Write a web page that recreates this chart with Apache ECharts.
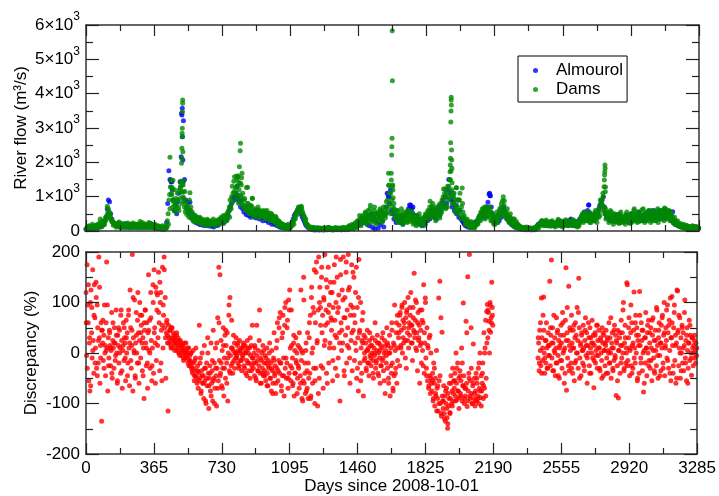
<!DOCTYPE html>
<html>
<head>
<meta charset="utf-8">
<script src="https://cdn.jsdelivr.net/npm/echarts@6/dist/echarts.min.js"></script>
<style>html,body{margin:0;padding:0;background:#fff;}#c{width:719px;height:496px;}</style>
</head>
<body>
<div id="c"></div>
<script>
// ---------- DATA ----------
// X axis ticks (days since 2008-10-01)
const dayTicks = [0, 365, 730, 1095, 1460, 1825, 2190, 2555, 2920, 3285];
const flowTickLabels = ['0', '1', '2', '3', '4', '5', '6']; // ×10³
const discTickLabels = ['-200', '-100', '0', '100', '200'];

// Dams flow (m3/s): rows of 10 samples, every 4 days, row r starts at day r*40
const damsFlow = [
[60,90,120,70,100,140,80,110,90,130],
[100,150,90,120,170,110,140,200,160,350],
[180,220,160,250,200,280,300,380,450,520],
[650,560,480,400,340,300,260,230,210,190],
[170,150,200,140,250,180,130,160,210,150],
[120,170,140,200,110,160,230,130,180,150],
[140,190,110,170,130,210,150,120,180,140],
[160,110,200,130,170,250,140,190,120,160],
[130,180,150,110,220,140,170,120,190,150],
[110,160,130,90,150,120,80,140,100,130],
[90,70,120,60,100,80,130,70,110,300],
[500,900,1060,1280,1480,1050,700,860,600,750],
[560,800,650,900,700,1200,950,1450,1140,1340],
[1000,860,700,560,650,480,720,540,400,620],
[450,380,560,330,480,300,420,350,280,400],
[320,260,380,240,300,350,220,280,330,250],
[290,200,260,310,230,180,270,220,300,240],
[210,280,250,190,300,260,230,320,270,350],
[300,400,280,350,450,320,380,300,420,520],
[480,600,700,900,750,1000,1300,1100,1450,1580],
[1100,950,1300,1050,1600,1200,900,1400,1000,800],
[1100,750,900,650,700,1270,600,800,550,700],
[650,500,720,950,580,480,650,550,600,450],
[620,480,550,600,420,500,580,450,520,400],
[480,550,380,500,420,460,350,520,400,300],
[450,320,380,280,420,250,330,200,300,180],
[250,160,220,140,190,120,170,150,110,160],
[130,100,150,90,120,200,150,250,300,380],
[420,500,460,560,620,550,680,600,700,650],
[560,480,400,330,280,220,180,150,120,100],
[90,70,110,60,80,100,50,90,70,60],
[80,50,70,40,90,60,50,80,40,70],
[60,90,40,70,50,80,100,60,45,75],
[50,80,60,40,90,55,70,45,85,60],
[70,40,60,90,50,75,45,80,60,100],
[80,120,60,100,150,90,70,130,110,180],
[150,250,120,200,300,180,260,350,220,400],
[300,450,250,380,520,320,420,280,600,350],
[480,750,380,520,300,450,600,350,500,280],
[420,550,320,480,650,380,500,300,560,450],
[600,380,700,520,900,680,1330,800,1100,1680],
[900,700,550,650,400,500,350,600,300,450],
[380,520,300,450,250,400,550,320,480,280],
[420,600,350,500,280,450,380,550,300,420],
[250,380,300,450,200,350,280,400,220,320],
[180,300,250,400,350,500,300,450,600,380],
[500,870,600,710,450,650,550,400,700,480],
[600,420,550,750,380,500,650,900,700,1224],
[800,1000,650,1100,700,900,1300,1000,1500,1750],
[1200,1000,800,1100,650,900,1262,700,500,900],
[600,1100,450,700,1255,550,400,350,300,250],
[200,300,150,250,120,200,280,150,100,180],
[120,200,150,250,300,200,350,450,380,550],
[500,650,420,600,700,480,550,400,620,500],
[450,700,380,550,300,450,250,400,200,350],
[300,450,250,500,600,400,700,550,880,1000],
[750,600,450,550,350,480,300,420,250,380],
[200,300,150,250,350,180,120,220,100,160],
[90,140,70,120,60,100,80,50,110,70],
[60,40,80,50,70,45,90,55,65,40],
[50,80,60,100,70,120,150,200,180,250],
[220,300,180,270,200,240,160,280,210,250],
[190,230,160,270,200,180,250,150,220,190],
[170,240,200,150,260,180,300,210,160,230],
[200,280,170,250,300,190,240,160,270,210],
[180,250,150,220,300,200,170,260,140,230],
[200,300,250,400,350,500,300,450,380,520],
[420,300,480,350,400,250,450,320,500,380],
[450,300,400,550,350,480,600,400,700,903],
[800,600,750,1000,700,500,650,450,550,400],
[500,350,450,300,550,400,280,480,350,420],
[300,450,250,400,350,500,280,420,320,380],
[250,400,320,480,280,350,450,300,400,220],
[350,500,280,420,600,380,300,450,550,320],
[400,280,500,350,450,620,380,300,480,400],
[350,550,300,450,600,380,500,320,420,560],
[450,380,600,300,500,420,650,350,550,400],
[480,600,350,550,420,670,500,380,600,450],
[520,400,580,350,450,300,380,250,320,200],
[250,180,220,150,200,130,180,120,160,100],
[140,90,120,80,110,150,90,130,100,80],
[120,70,100,140,90,60,110,80,130,70],
[100,90]
];
// Dams flow, extra samples: every 8 days, row r starts at day 2 + r*80
const damsFlow2 = [
[40,110,150,70,200,90,130,180,80,250],
[120,300,180,400,720,500,350,280,170,230],
[110,190,260,90,200,150,100,220,130,180],
[90,230,160,100,200,120,280,90,170,210],
[100,160,250,90,180,130,200,70,150,110],
[60,150,50,90,120,200,650,1100,900,1200],
[950,1100,600,1250,800,1450,1150,800,600,900],
[700,500,280,450,250,350,400,200,300,180],
[230,340,160,280,200,350,150,250,300,200],
[250,380,220,450,300,550,400,650,850,1150],
[1250,1500,800,1050,1550,700,950,600,800,500],
[750,550,400,600,500,700,380,550,450,600],
[350,600,450,300,500,380,250,400,150,280],
[200,100,180,80,130,200,60,140,250,200],
[350,550,700,600,720,500,420,350,200,140],
[60,110,40,90,60,100,30,70,50,90],
[40,70,110,50,80,30,60,100,45,70],
[90,40,110,60,80,50,150,100,200,60],
[200,100,300,450,150,350,250,550,200,400],
[650,250,400,700,200,500,350,600,250,700],
[450,850,550,1100,500,1300,800,400,600,250],
[450,650,200,350,500,250,600,350,500,200],
[400,150,300,500,250,350,150,450,300,550],
[700,400,800,550,300,650,450,800,550,1000],
[1100,700,1300,950,1150,800,1000,550,750,600],
[900,350,800,450,200,350,150,250,100,220],
[80,180,250,400,300,550,650,350,700,450],
[600,300,500,200,350,550,400,650,800,500],
[880,400,650,300,500,250,350,120,280,200],
[150,60,100,45,80,120,50,90,35,70],
[100,40,150,90,200,300,150,250,320,150],
[260,140,300,220,120,250,340,180,270,120],
[240,330,200,150,280,230,330,180,250,120],
[150,350,450,250,550,400,300,550,250,450],
[350,600,250,500,450,800,1100,600,350,500],
[250,600,400,200,500,300,450,220,550,400],
[350,200,550,300,450,250,500,650,400,250],
[550,300,450,650,250,500,400,600,250,450],
[300,550,450,250,600,400,550,300,650,350],
[600,300,500,250,400,200,300,150,220,140],
[200,110,170,60,130,90,150,70,120,50],
[90]
];
// Dams flow peak days read individually
const damsPeakDays = [
450,458,462,466,506,510,512,513,514,515,515,516,517,518,518,519,520,521,523,557,
808,812,818,822,826,828,832,836,866,891,
1621,1622,1636,1638,1639,1640,1641,1642,1644,1645,1646,
1924,1950,1951,1952,1953,1954,1955,1956,1957,1957,1958,1959,1960,1961,1962,1968,1985,1992,
2762,2776,2778,2779,2780,2781,2782,2783,2784
];
const damsPeakFlow = [
2146,1280,1250,1480,1300,1437,1971,2117,2408,2748,2845,2990,3475,3718,3816,2311,1340,1146,951,1117,
1602,1563,1408,1874,2340,2554,1340,1680,1272,951,
1680,1330,1486,2214,2457,2700,5835,4379,1340,1194,971,
1224,1486,1729,1923,2117,2573,3175,3495,3894,3816,3670,2360,2068,1826,1408,1097,1262,903,
903,1291,1486,1632,1729,1923,1826,1146,1280
];

// Almourol flow (m3/s): rows of 10 samples, every 6 days, row r starts at day r*60
const almFlow = [
[50,80,110,60,90,130,70,100,80,120],
[90,140,200,150,130,180,220,300,400,640],
[903,854,500,350,260,220,180,160,200,150],
[130,170,110,150,210,120,160,140,100,150],
[130,170,110,150,120,180,100,140,160,120],
[150,110,180,130,100,170,120,140,220,130],
[100,140,80,120,70,110,90,60,100,70],
[60,90,250,800,1757,1500,1437,1200,900,600],
[750,500,850,1100,1437,2165,3573,3214,1500,900],
[700,840,500,600,380,450,300,350,250,320],
[220,280,180,250,200,160,230,190,150,210],
[180,140,200,160,120,190,150,220,170,250],
[230,300,250,350,280,400,330,450,600,700],
[800,950,1000,903,1100,1300,1000,850,700,900],
[650,550,700,480,600,450,520,400,550,480],
[420,500,380,450,520,350,480,400,300,420],
[380,300,420,250,350,280,200,320,220,180],
[250,150,200,120,170,100,140,90,130,110],
[80,120,90,150,250,350,450,500,550,620],
[600,680,500,420,350,280,200,150,120,90],
[70,50,80,40,60,30,70,50,40,60],
[40,70,30,55,45,80,35,60,50,40],
[60,35,70,45,55,40,75,50,35,65],
[50,80,40,70,100,60,90,120,80,150],
[100,200,140,250,180,300,220,350,250,400],
[300,200,450,150,350,500,100,400,60,300],
[250,80,400,180,550,300,120,450,700,1097],
[1000,800,1200,600,500,350,450,250,400,300],
[350,250,420,200,380,300,450,550,650,757],
[700,650,500,400,300,450,250,350,200,300],
[150,250,350,200,400,300,500,350,600,450],
[550,400,600,350,500,700,450,600,800,900],
[700,1000,800,1200,1500,1100,900,700,850,600],
[750,500,900,400,600,350,300,250,200,150],
[180,120,200,100,150,220,130,250,180,300],
[250,400,350,500,450,600,400,550,700,840],
[1078,1030,700,500,400,300,350,250,450,300],
[500,400,600,700,550,450,350,400,250,300],
[200,250,150,120,180,100,80,120,60,90],
[50,80,40,60,45,70,35,55,40,60],
[50,80,100,150,200,180,250,200,280,220],
[180,250,150,220,190,260,170,230,200,160],
[240,180,300,200,150,250,190,280,220,170],
[260,200,300,350,180,250,150,220,280,190],
[250,350,300,450,400,550,350,500,600,757],
[500,400,350,450,300,500,400,550,650,750],
[800,900,1000,700,500,400,450,350,300,400],
[350,450,280,400,300,480,350,250,420,300],
[380,280,450,320,400,250,350,500,300,420],
[350,480,300,420,550,380,450,300,400,500],
[320,450,550,380,480,350,600,400,500,380],
[550,420,600,350,500,450,620,380,480,560],
[450,560,400,300,350,250,200,280,180,150],
[200,130,170,110,150,90,130,100,80,120],
[90,110,70,130,90,60,100,80]
];
const almPeakDays = [455,460,512,514,517,519,521,557,800,810,1623,1625,1740,1752,2163,2166,2694,3144];
const almPeakFlow = [1486,1437,3427,3379,2748,2068,1437,840,1000,950,1097,1000,757,700,1097,1030,757,560];

// Discrepancy (%): rows of 10 samples, every 3 days
// part A: row r starts at day r*30 (days 0-2187)
const discA = [
[120,-5,175,95,60,-55,20,-75,100,125],
[40,-10,165,25,-40,135,70,10,140,-30],
[95,50,-20,190,30,-60,15,60,-135,45],
[20,-15,35,95,0,-45,60,180,10,-75],
[30,-10,45,15,-25,5,80,-50,25,10],
[-30,50,20,-5,85,0,-60,35,15,-20],
[45,10,-40,85,25,-70,5,60,-15,30],
[20,-55,65,0,40,-20,75,10,-65,125],
[50,-30,15,195,-75,30,5,105,-45,20],
[80,0,-20,120,40,-60,25,75,-10,55],
[75,-35,30,10,-90,45,85,20,-25,60],
[-20,40,155,5,65,-30,120,25,-55,10],
[135,-40,165,50,20,130,-15,85,115,30],
[160,60,-35,100,120,45,-55,170,10,75],
[190,50,110,-50,40,65,20,-115,55,30],
[45,25,15,50,30,10,40,20,35,5],
[25,15,35,5,20,30,0,15,-5,25],
[10,20,-5,15,5,-15,10,0,-10,20],
[5,-10,0,-20,10,-15,-5,-25,0,-30],
[-20,-40,5,-30,-55,-15,-45,10,-35,-60],
[-25,-70,-40,55,-50,-10,-80,-35,0,-60],
[-45,-90,15,-55,-30,-100,-20,-65,30,-40],
[-110,-50,-25,-75,20,-60,-35,-95,45,-50],
[-20,-70,10,-45,-105,-30,70,-55,170,-15],
[155,-40,25,-65,5,-30,50,-85,-10,35],
[-50,15,-20,40,-95,0,75,-35,110,-5],
[-25,65,10,-40,5,-15,20,0,-10,30],
[-5,15,-20,5,-30,25,0,-15,10,-35],
[10,-10,20,-25,0,15,-40,5,-15,25],
[-20,0,-35,10,-50,-5,15,-25,55,-10],
[-30,0,-45,10,-20,-55,55,-15,-35,5],
[-25,85,-40,-10,-60,0,-30,15,-45,-20],
[-35,-5,-55,-20,10,-40,-65,-15,-30,20],
[-50,-20,-75,5,-35,-60,-10,40,-45,-25],
[-80,10,-30,60,-55,-15,50,-40,80,-20],
[-65,30,-45,75,-10,-85,55,-30,100,-50],
[-20,65,-70,105,-40,125,10,-55,85,-30],
[-10,-60,20,-85,5,-40,30,-20,0,-50],
[15,-30,-70,10,-45,125,-15,-90,0,-55],
[150,-60,-20,-80,5,-75,-35,40,-90,-50],
[30,-40,75,-85,110,0,-60,90,-30,165],
[-100,60,-30,180,20,-105,85,190,-50,130],
[90,-25,150,40,75,-70,110,15,195,55],
[85,-40,130,60,170,-20,95,20,140,70],
[45,120,-55,90,10,175,65,-30,100,30],
[150,80,-10,115,40,-95,185,60,5,125],
[20,190,70,-45,110,35,160,-20,85,50],
[195,10,130,-60,75,25,175,-35,90,45],
[150,-15,60,120,5,-50,90,30,-75,185],
[40,-20,100,10,-40,65,20,-85,35,0],
[-10,20,-30,5,45,-20,10,-45,25,-5],
[15,-25,0,30,-15,-50,10,-5,60,-30],
[-20,5,35,-40,0,20,-10,-60,15,-25],
[10,-15,40,-35,0,25,-80,5,-20,50],
[-30,15,-50,0,35,-85,10,-40,60,-20],
[-70,20,-45,95,5,-30,40,-60,75,10],
[30,55,-25,80,15,45,90,0,65,20],
[50,100,25,70,-30,85,40,110,10,60],
[35,75,120,20,55,-15,90,45,158,30],
[65,10,100,40,-35,80,25,55,-60,15],
[45,-20,85,5,60,135,-40,20,109,-10],
[-30,50,-55,10,-70,30,-45,-80,0,-60],
[-75,-40,-95,-20,-60,-105,-50,-85,5,-70],
[-90,-115,109,-55,142,-100,70,-125,41,-95],
[-110,-65,-120,-85,-135,-100,-70,-128,-149,-80],
[-105,-60,-118,-90,-45,-100,-75,-30,-95,-55],
[-70,-40,-85,0,-60,-92,-20,-75,-50,-88],
[-35,-80,-55,10,-95,-65,99,-45,-100,-70],
[-85,63,-60,-106,151,-75,-40,195,-90,-55],
[50,-80,-100,-65,18,-90,-50,-105,-75,-40],
[-95,-60,-85,-30,-100,-70,0,-88,-45,-75],
[-60,-20,-90,40,-70,10,65,-50,82,96],
[30,80,63,0,100,41,70,140,90,55]
];
// part A, extra samples: every 6 days, row r starts at day 1 + r*60
const discA2 = [
[60,-30,135,30,-65,90,5,75,-20,110],
[-45,25,130,-10,45,65,-30,15,5,95],
[-25,40,10,-40,60,20,-15,35,-55,50],
[0,75,-35,15,50,-10,30,-45,85,20],
[-15,45,110,0,-50,35,65,-20,100,40],
[20,-45,60,85,10,-70,45,0,70,-25],
[100,40,-60,120,15,80,140,-20,55,95],
[165,30,60,35,20,45,10,50,25,30],
[20,40,10,25,0,15,5,-10,20,0],
[-5,10,-25,-15,0,-35,-20,-45,-10,-50],
[-35,-55,-20,-75,-45,-60,-30,-95,-50,0],
[-65,-40,-85,-15,-55,-100,-30,20,-70,60],
[-45,-20,-70,15,-30,45,-60,-10,95,-40],
[10,-20,35,-30,0,-10,20,-25,5,-15],
[-5,15,-30,0,-45,10,-20,30,-35,-10],
[-20,15,-50,-5,-35,25,-60,-15,-40,5],
[-45,-10,-65,-25,0,-50,-30,-80,-15,-40],
[-60,25,-35,70,-20,-75,40,-45,90,-10],
[50,-50,85,-25,15,-65,35,-40,-15,-80],
[-25,40,-60,5,-95,105,-40,20,-70,-20],
[60,-90,130,10,80,-55,160,25,-80,100],
[55,170,-30,105,25,145,-60,80,10,120],
[65,-15,140,35,190,-45,90,20,155,45],
[105,-35,70,180,15,125,-10,95,40,160],
[75,20,170,-30,110,45,-55,25,80,-15],
[30,-35,5,-20,40,-10,15,-40,0,25],
[-15,20,-45,5,-25,30,-10,-55,15,-5],
[20,-60,0,-25,45,-75,15,-40,60,-15],
[40,75,10,95,30,60,-10,80,25,50],
[90,55,20,70,40,105,5,60,30,85],
[20,65,-25,40,100,-45,15,-65,35,-50],
[-55,-90,-30,-80,-115,-65,-100,-45,-120,-85],
[-95,-130,-75,-110,-140,-90,-120,-60,-105,-80],
[-55,-95,-30,-75,-110,-45,-85,-20,-65,-90],
[-70,40,-95,-50,-85,-30,-100,-60,-80,-95],
[-50,-90,-20,-75,-105,-40,-65,0,-85,20],
[85,45,95,60,75]
];
// part B: row r starts at day 2430 + r*30
const discBStart = 2430;
const discB = [
[-10,20,-35,45,5,-25,109,30,-15,75],
[111,0,-40,25,-20,60,10,-30,40,-5],
[15,142,-25,35,184,-10,50,20,-35,5],
[30,-45,10,70,-20,45,-5,25,-50,15],
[-15,55,20,-30,80,0,35,-60,10,65],
[169,-74,40,-10,25,132,-35,50,5,-20],
[75,20,-40,45,10,-55,30,60,-15,0],
[90,25,-30,148,50,-10,15,-45,35,5],
[-20,55,10,-35,25,70,-5,40,-60,15],
[0,30,-25,50,10,-40,20,65,-10,35],
[-69,15,40,-20,5,55,-30,25,-5,45],
[10,-35,30,0,-15,50,20,-45,35,5],
[-25,15,45,-10,25,-40,5,60,-20,30],
[0,-50,20,40,-30,10,-15,55,-5,35],
[-84,20,-25,45,-89,5,30,-40,15,65],
[-10,40,0,100,-35,20,55,-20,10,139],
[135,-15,30,70,-45,5,40,-25,60,15],
[-30,45,121,10,-20,75,0,50,-55,25],
[35,-40,122,15,-10,60,25,-35,45,-77],
[5,30,-20,80,10,-45,40,0,65,-15],
[20,-30,50,10,-55,35,70,-10,25,-40],
[45,5,-25,85,15,-50,30,60,-5,20],
[-35,55,10,75,-20,35,100,-45,15,50],
[25,-10,95,40,-30,65,5,109,-55,30],
[112,15,-40,50,80,-15,35,-60,20,125],
[123,45,-25,10,70,-50,30,0,55,-20],
[40,-35,15,105,-10,25,-55,50,5,-30],
[20,65,-15,35,0,-44,30,10,-25,15],
[25,-10,5,20,-5]
];
// part B, extra samples: every 6 days, row r starts at day 2431 + r*60
const discB2Start = 2431;
const discB2 = [
[30,-20,60,-40,10,45,-10,25,-30,15],
[-5,50,20,-35,75,0,-20,40,-45,10],
[35,-15,60,5,-40,25,90,-25,15,45],
[-30,10,55,-20,35,0,80,-50,20,40],
[5,-25,45,15,-10,60,-40,30,0,20],
[-15,35,-5,55,10,-30,25,-50,40,5],
[20,-40,30,0,-20,70,10,-35,45,-10],
[25,-55,5,40,-20,15,85,-30,30,0],
[-25,50,10,95,-40,20,-10,60,35,-50],
[15,75,-20,45,0,-60,30,10,55,-25],
[40,-15,65,5,-35,25,90,-5,45,-45],
[20,70,-30,40,10,85,-15,55,-40,30],
[60,-25,95,15,-50,40,75,0,-35,50],
[10,80,-20,35,-60,20,55,-10,30,0],
[35,-20,10]
];

// ---------- BUILD POINTS ----------
function rowsToPts(rows, start, rowSpan, step) {
  const pts = [];
  rows.forEach((row, r) => row.forEach((v, j) => pts.push([start + r * rowSpan + j * step, v])));
  return pts;
}
const damsPts = rowsToPts(damsFlow, 0, 40, 4).concat(rowsToPts(damsFlow2, 2, 80, 8));
damsPeakDays.forEach((d, i) => damsPts.push([d, damsPeakFlow[i]]));
const almPts = rowsToPts(almFlow, 0, 60, 6);
almPeakDays.forEach((d, i) => almPts.push([d, almPeakFlow[i]]));
const discPts = rowsToPts(discA, 0, 30, 3)
  .concat(rowsToPts(discA2, 1, 60, 6))
  .concat(rowsToPts(discB, discBStart, 30, 3))
  .concat(rowsToPts(discB2, discB2Start, 60, 6));

// ---------- CHART ----------
const FONT = '"Liberation Sans", Arial, Helvetica, sans-serif';
const FS = 17;
const LINE = '#333';
const chart = echarts.init(document.getElementById('c'), null, {renderer: 'canvas'});

function xAx(grid, pos, labels, extra) {
  return Object.assign({
    gridIndex: grid, type: 'value', position: pos, min: 0, max: 3285, interval: 365,
    axisLine: {show: true, onZero: false, lineStyle: {color: LINE, width: 1.5}},
    axisTick: {show: true, inside: true, length: 11, lineStyle: {color: '#222', width: 1.2}},
    minorTick: {show: true, splitNumber: 2, length: 6, lineStyle: {color: '#222', width: 1.2}},
    splitLine: {show: false}, minorSplitLine: {show: false},
    axisLabel: {show: labels, margin: 6, fontSize: FS, color: '#000', fontFamily: FONT,
      formatter: v => String(dayTicks[Math.round(v / 365)] ?? v)},
    z: 5
  }, extra || {});
}
function yAx(grid, pos, min, max, interval, labels, fmt, extra) {
  return Object.assign({
    gridIndex: grid, type: 'value', position: pos, min: min, max: max, interval: interval,
    axisLine: {show: true, onZero: false, lineStyle: {color: LINE, width: 1.5}},
    axisTick: {show: true, inside: true, length: 13, lineStyle: {color: '#222', width: 1.2}},
    minorTick: {show: true, splitNumber: 2, length: 7, lineStyle: {color: '#222', width: 1.2}},
    splitLine: {show: false}, minorSplitLine: {show: false},
    axisLabel: {show: labels, margin: 6, fontSize: FS, color: '#000', fontFamily: FONT, formatter: fmt,
      rich: {b: {fontSize: FS, lineHeight: 28, fontFamily: FONT, color: '#000'},
             s: {fontSize: 12, lineHeight: 7, verticalAlign: 'top', fontFamily: FONT, color: '#000'}}},
    z: 5
  }, extra || {});
}

const option = {
  backgroundColor: '#fff',
  animation: false,
  textStyle: {fontFamily: FONT},
  grid: [
    {left: 86, right: 20, top: 25, height: 206},
    {left: 86, right: 20, top: 252, height: 204}
  ],
  legend: {
    data: ['Almourol', 'Dams'], orient: 'vertical', left: 518, top: 56,
    borderColor: '#000', borderWidth: 1, padding: [5, 4, 3, 15],
    icon: 'circle', itemWidth: 5, itemHeight: 5, itemGap: 0,
    textStyle: {fontSize: FS, color: '#000', fontFamily: FONT, lineHeight: 19, padding: [0, 0, 0, 13]}
  },
  xAxis: [
    xAx(0, 'bottom', false),
    xAx(0, 'top', false),
    xAx(1, 'bottom', true, {name: 'Days since 2008-10-01', nameLocation: 'middle', nameGap: 24,
      nameMoveOverlap: false,
      nameTextStyle: {fontSize: FS, color: '#000', fontFamily: FONT}}),
    xAx(1, 'top', false)
  ],
  yAxis: [
    yAx(0, 'left', 0, 6000, 1000, true,
      v => v === 0 ? '{b|0}' : '{b|' + flowTickLabels[Math.round(v / 1000)] + '×10}{s|3}',
      {name: 'River flow (m³/s)', nameLocation: 'middle', nameGap: 56, nameMoveOverlap: false,
       nameTextStyle: {fontSize: FS, color: '#000', fontFamily: FONT}}),
    yAx(0, 'right', 0, 6000, 1000, false),
    yAx(1, 'left', -200, 200, 100, true,
      v => '{b|' + discTickLabels[Math.round((v + 200) / 100)] + '}',
      {name: 'Discrepancy (%)', nameLocation: 'middle', nameGap: 46, nameMoveOverlap: false,
       nameTextStyle: {fontSize: FS, color: '#000', fontFamily: FONT}}),
    yAx(1, 'right', -200, 200, 100, false)
  ],
  series: [
    {type: 'scatter', name: 'Almourol', xAxisIndex: 0, yAxisIndex: 0, data: almPts,
     symbol: 'circle', symbolSize: 5, itemStyle: {color: '#0000ff'}, z: 2},
    {type: 'scatter', name: 'Dams', xAxisIndex: 0, yAxisIndex: 0, data: damsPts,
     symbol: 'circle', symbolSize: 5, itemStyle: {color: '#008a00'}, z: 3},
    {type: 'scatter', name: 'Discrepancy', xAxisIndex: 2, yAxisIndex: 2, data: discPts,
     symbol: 'circle', symbolSize: 5, itemStyle: {color: '#ff0000'}, z: 2}
  ]
};
chart.setOption(option);
</script>
</body>
</html>
